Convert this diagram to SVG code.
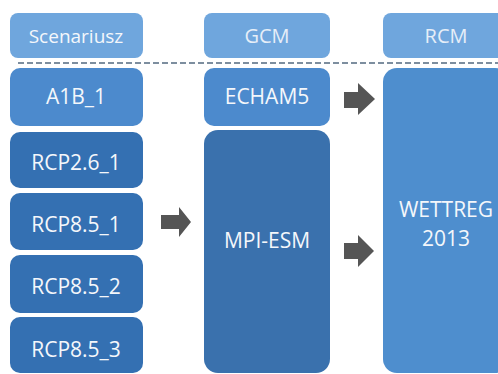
<svg xmlns="http://www.w3.org/2000/svg" width="498" height="374" viewBox="0 0 498 374">
  <style>
    .lbl { font-family: "Open Sans", "Liberation Sans", sans-serif; font-size: 21px; fill: #f4f7fb; text-anchor: middle; }
    .hdr { fill: #6fa6dd; }
    .hdr-t { fill: #e6eef8; font-size: 20px; }
    .mid { fill: #4c8acd; }
    .dark { fill: #3470b2; }
    .mpi { fill: #3a71ad; }
    .rcm { fill: #4e8ece; }
    .arrow { fill: #555555; }
    .sep { stroke: #7d8e9f; stroke-width: 2; stroke-dasharray: 6 3; fill: none; }
  </style>

  <rect width="498" height="374" fill="#ffffff"/>

  <!-- column headers -->
  <g id="hdr-scenariusz">
    <rect class="hdr" x="10" y="13" width="133" height="45" rx="8"/>
    <text class="lbl" x="76" y="43" style="font-size:19px">Scenariusz</text>
  </g>
  <g id="hdr-gcm">
    <rect class="hdr" x="204" y="13" width="126" height="45" rx="8"/>
    <text class="lbl hdr-t" x="267" y="43">GCM</text>
  </g>
  <g id="hdr-rcm">
    <rect class="hdr" x="383" y="13" width="126" height="45" rx="8"/>
    <text class="lbl hdr-t" x="446" y="43">RCM</text>
  </g>

  <!-- header separator -->
  <line class="sep" x1="18" y1="63" x2="498" y2="63"/>

  <!-- scenarios -->
  <g id="a1b-1">
    <rect class="mid" x="10" y="68" width="133" height="58" rx="10"/>
    <text class="lbl" x="76" y="104">A1B_1</text>
  </g>
  <g id="rcp26-1">
    <rect class="dark" x="10" y="132" width="133" height="56" rx="10"/>
    <text class="lbl" x="76" y="170">RCP2.6_1</text>
  </g>
  <g id="rcp85-1">
    <rect class="dark" x="10" y="193" width="133" height="57" rx="10"/>
    <text class="lbl" x="76" y="232">RCP8.5_1</text>
  </g>
  <g id="rcp85-2">
    <rect class="dark" x="10" y="255" width="133" height="58" rx="10"/>
    <text class="lbl" x="76" y="294">RCP8.5_2</text>
  </g>
  <g id="rcp85-3">
    <rect class="dark" x="10" y="317" width="133" height="56" rx="10"/>
    <text class="lbl" x="76" y="357">RCP8.5_3</text>
  </g>

  <!-- global models -->
  <g id="echam5">
    <rect class="mid" x="204" y="68" width="126" height="58" rx="10"/>
    <text class="lbl" x="267" y="104">ECHAM5</text>
  </g>
  <g id="mpi-esm">
    <rect class="mpi" x="204" y="130" width="126" height="243" rx="14"/>
    <text class="lbl" x="267" y="248">MPI-ESM</text>
  </g>

  <!-- regional model -->
  <g id="wettreg">
    <rect class="rcm" x="383" y="68" width="126" height="305" rx="14"/>
    <text class="lbl" x="446" y="217">WETTREG</text>
    <text class="lbl" x="446" y="246">2013</text>
  </g>

  <!-- block arrows -->
  <g id="connectors">
    <polygon class="arrow" points="161,215 179,215 179,207 191,222 179,237 179,229 161,229"/>
    <polygon class="arrow" points="344,92 358,92 358,83 375,99 358,115 358,108 344,108"/>
    <polygon class="arrow" points="344,243 358,243 358,235 374,251 358,267 358,259 344,259"/>
  </g>
</svg>
